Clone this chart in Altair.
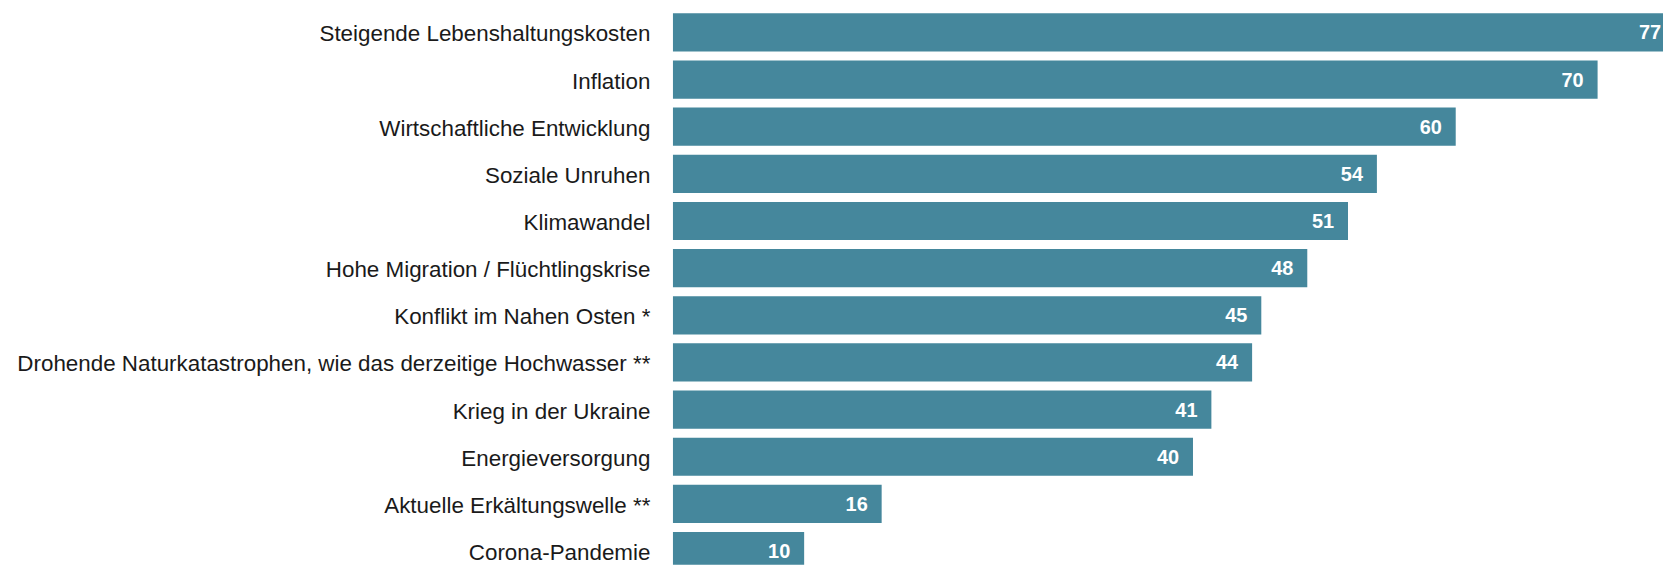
import altair as alt
import pandas as pd

categories = [
    "Steigende Lebenshaltungskosten",
    "Inflation",
    "Wirtschaftliche Entwicklung",
    "Soziale Unruhen",
    "Klimawandel",
    "Hohe Migration / Flüchtlingskrise",
    "Konflikt im Nahen Osten *",
    "Drohende Naturkatastrophen, wie das derzeitige Hochwasser **",
    "Krieg in der Ukraine",
    "Energieversorgung",
    "Aktuelle Erkältungswelle **",
    "Corona-Pandemie",
]
# bar lengths (the first bar runs off the edge)
values = [76.3, 70.4, 59.6, 53.6, 51.4, 48.3, 44.8, 44.1, 41.0, 39.6, 15.9, 10.0]
# printed value labels
labels = ["77", "70", "60", "54", "51", "48", "45", "44", "41", "40", "16", "10"]

df = pd.DataFrame({"cat": categories, "val": values, "lab": labels})

BAR = "#45879c"
FONT = "Liberation Sans"
PX_PER_UNIT = 13.2
PLOT_W = 995

y_enc = alt.Y(
    "cat:N",
    sort=None,
    scale=alt.Scale(range=[0, 565.5], paddingInner=0.19, paddingOuter=0.063),
    axis=alt.Axis(
        title=None,
        ticks=False,
        domain=False,
        grid=False,
        labelPadding=23,
        labelLimit=800,
        labelFont=FONT,
        labelFontSize=22.5,
        labelColor="#1a1a1a",
        labelOffset=2,
    ),
)
x_scale = alt.Scale(domain=[0, PLOT_W / PX_PER_UNIT], nice=False, zero=True)

base = alt.Chart(df).encode(y=y_enc)

bars = base.mark_bar(color=BAR, clip=True).encode(
    x=alt.X("val:Q", scale=x_scale, axis=None)
)
text = base.mark_text(
    align="right",
    baseline="middle",
    dx=-14,
    dy=1,
    color="white",
    fontWeight="bold",
    fontSize=20,
    font=FONT,
).encode(
    x=alt.X("val:Q", scale=x_scale, axis=None),
    text=alt.Text("lab:N"),
)

chart = (
    (bars + text)
    .properties(
        width=PLOT_W,
        height=557,
        autosize=alt.AutoSizeParams(type="none"),
        padding={"left": 668, "top": 1, "right": 0, "bottom": 0},
        background="white",
    )
    .configure_view(stroke=None)
)

chart.save("out.html", embed_options={"renderer": "svg", "actions": False})
